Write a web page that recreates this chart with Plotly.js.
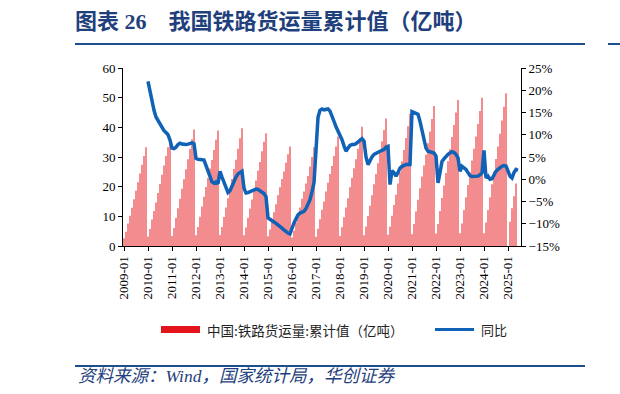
<!DOCTYPE html>
<html>
<head>
<meta charset="utf-8">
<script src="https://cdn.plot.ly/plotly-3.0.1.min.js"></script>
<style>
html,body{margin:0;padding:0;background:#fff;}
#chart{width:620px;height:394px;}
</style>
</head>
<body>
<div id="chart"></div>
<script>
// ---- data ----
const months = [];
for (let y = 2009; y <= 2025; y++) {
  for (let m = 1; m <= 12; m++) {
    if (y === 2025 && m > 7) break;
    months.push(y + '-' + String(m).padStart(2, '0'));
  }
}
const tickLabels = ['2009-01', '2010-01', '2011-01', '2012-01', '2013-01', '2014-01', '2015-01', '2016-01',
  '2017-01', '2018-01', '2019-01', '2020-01', '2021-01', '2022-01', '2023-01', '2024-01', '2025-01'];

// 中国:铁路货运量:累计值（亿吨）
const cum2009 = [2.6, 4.8, 7.6, 10.2, 12.9, 15.8, 18.6, 21.5, 24.4, 27.4, 30.3, 33.3];
const cum2010 = [3.2, 5.7, 8.9, 11.8, 14.7, 17.9, 20.9, 24.0, 27.1, 30.3, 33.3, 36.4];
const cum2011 = [3.4, 6.1, 9.5, 12.7, 15.9, 19.3, 22.5, 25.9, 29.2, 32.7, 36.0, 39.3];
const cum2012 = [3.6, 6.4, 9.9, 13.3, 16.6, 19.9, 22.9, 26.1, 29.0, 32.4, 35.8, 38.9];
const cum2013 = [3.7, 6.4, 9.8, 13.0, 16.1, 19.4, 22.6, 26.0, 29.1, 32.8, 36.3, 39.7];
const cum2014 = [3.6, 6.2, 9.5, 12.6, 15.7, 19.0, 22.1, 25.4, 28.3, 31.9, 35.1, 38.0];
const cum2015 = [3.3, 5.6, 8.6, 11.4, 14.1, 17.1, 19.8, 22.6, 25.1, 28.1, 30.9, 33.5];
const cum2016 = [2.9, 5.1, 7.8, 10.5, 13.0, 15.9, 18.4, 21.1, 23.6, 26.8, 30.0, 33.3];
const cum2017 = [3.1, 5.8, 9.0, 12.2, 15.0, 18.4, 21.3, 24.3, 27.0, 30.3, 33.5, 36.9];
const cum2018 = [3.4, 6.3, 9.7, 13.0, 16.1, 19.8, 23.0, 26.2, 29.2, 32.8, 36.4, 40.2];
const cum2019 = [3.6, 6.6, 10.1, 13.6, 17.1, 20.8, 24.3, 27.9, 31.5, 35.3, 39.1, 43.0];
const cum2020 = [3.8, 6.5, 10.2, 13.8, 17.3, 21.1, 24.9, 28.6, 32.4, 36.4, 40.4, 44.6];
const cum2021 = [4.0, 7.4, 11.6, 15.6, 19.5, 23.4, 27.1, 30.8, 34.6, 38.6, 42.8, 47.2];
const cum2022 = [4.2, 7.4, 11.8, 16.2, 20.4, 24.6, 28.6, 32.6, 36.7, 40.8, 45.0, 49.2];
const cum2023 = [4.3, 7.6, 12.1, 16.4, 20.6, 24.8, 28.8, 32.8, 36.9, 41.1, 45.5, 50.0];
const cum2024 = [4.3, 7.9, 12.1, 16.4, 20.8, 25.1, 29.3, 33.5, 37.8, 42.3, 46.9, 51.5];
const cum2025 = [null, 8.2, 12.7, 16.8, 21.1, null, null];

// 同比 (%)
const yoy2009 = [null, null, null, null, null, null, null, null, null, null, null, null];
const yoy2010 = [22.0, 19.5, 17.5, 15.5, 14.0, 13.2, 12.3, 11.5, 10.9, 10.5, 10.0, 8.8];
const yoy2011 = [7.0, 6.9, 7.2, 7.8, 8.1, 7.9, 7.8, 7.8, 7.9, 8.0, 8.2, 8.0];
const yoy2012 = [4.7, 4.5, 4.5, 4.4, 4.3, 3.2, 1.8, 0.6, -0.6, -0.9, -0.6, -1.0];
const yoy2013 = [1.8, 0.5, -0.8, -2.2, -3.0, -2.6, -1.5, -0.5, 0.5, 1.2, 1.5, 1.8];
const yoy2014 = [-2.0, -3.1, -3.0, -2.8, -2.5, -2.3, -2.2, -2.3, -2.6, -2.8, -3.2, -3.9];
const yoy2015 = [-8.7, -9.0, -9.4, -9.6, -9.9, -10.2, -10.5, -11.0, -11.4, -11.8, -12.1, -12.3];
const yoy2016 = [-10.8, -9.8, -8.9, -8.0, -7.6, -7.3, -7.2, -6.6, -5.8, -4.6, -2.8, -0.8];
const yoy2017 = [6.5, 13.9, 15.5, 15.8, 15.6, 15.7, 15.8, 15.3, 14.3, 13.0, 11.8, 10.8];
const yoy2018 = [10.0, 8.9, 7.5, 6.3, 7.0, 7.6, 7.8, 7.8, 8.0, 8.4, 8.6, 9.1];
const yoy2019 = [8.6, 5.0, 3.3, 4.4, 5.0, 5.6, 5.9, 6.2, 6.3, 6.5, 6.7, 7.2];
const yoy2020 = [7.4, -1.2, 1.9, 1.5, 0.7, 1.5, 2.5, 2.9, 3.2, 3.3, 3.3, 3.3];
const yoy2021 = [15.2, 15.0, 14.8, 14.6, 13.0, 11.0, 8.4, 7.0, 6.3, 6.2, 6.0, 5.9];
const yoy2022 = [5.2, -0.8, 1.5, 4.0, 4.6, 5.2, 5.6, 5.9, 6.2, 6.0, 5.6, 4.8];
const yoy2023 = [1.8, 2.9, 2.6, 2.2, 1.5, 0.8, 0.6, 0.6, 0.7, 0.7, 1.0, 1.4];
const yoy2024 = [6.5, 0.3, 0.7, 0.0, 0.1, 1.0, 1.8, 2.2, 2.6, 2.9, 3.1, 3.0];
const yoy2025 = [null, 0.7, 0.3, 1.5, 2.2, 2.0, null];

const cumulative = [].concat(cum2009, cum2010, cum2011, cum2012, cum2013, cum2014, cum2015, cum2016,
  cum2017, cum2018, cum2019, cum2020, cum2021, cum2022, cum2023, cum2024, cum2025);
const yoy = [].concat(yoy2009, yoy2010, yoy2011, yoy2012, yoy2013, yoy2014, yoy2015, yoy2016,
  yoy2017, yoy2018, yoy2019, yoy2020, yoy2021, yoy2022, yoy2023, yoy2024, yoy2025);

const barName = '中国:铁路货运量:累计值（亿吨）';
const lineName = '同比';

// ---- layout helpers (pixel -> paper) ----
const L = 123, R = 521, T = 68, B = 246;
const px = x => (x - L) / (R - L);
const py = y => (B - y) / (B - T);

const serif = 'Liberation Serif, Times New Roman, serif';
const cjk = 'Noto Sans CJK SC, sans-serif';
const navy = '#1f3f7d';

const traces = [
  {
    type: 'bar', x: months, y: cumulative, name: barName,
    width: 0.5,
    marker: {color: '#e3141c', opacity: 0.98, line: {width: 0}},
    showlegend: false, hoverinfo: 'skip'
  },
  {
    type: 'scatter', mode: 'lines', x: months, y: yoy, name: lineName, yaxis: 'y2',
    connectgaps: true,
    line: {color: '#0f62b6', width: 3.5},
    showlegend: false, hoverinfo: 'skip'
  }
];

const layout = {
  width: 620, height: 394,
  margin: {l: L, r: 620 - R, t: T, b: 394 - B, pad: 0},
  paper_bgcolor: '#fff', plot_bgcolor: '#fff',
  showlegend: false,
  xaxis: {
    type: 'category', categoryorder: 'array', categoryarray: months,
    range: [-0.5, months.length - 0.5],
    tickmode: 'array', tickvals: tickLabels, ticktext: tickLabels, tickangle: -90,
    ticks: 'outside', ticklen: 4, tickcolor: '#000', tickwidth: 1,
    showline: true, linecolor: '#000', linewidth: 1, showgrid: false, zeroline: false,
    tickfont: {family: serif, size: 13, color: '#000'}
  },
  yaxis: {
    range: [0, 60], dtick: 10, tick0: 0,
    ticks: 'outside', ticklen: 4, tickcolor: '#000',
    showline: true, linecolor: '#000', linewidth: 1, showgrid: false, zeroline: false,
    tickfont: {family: serif, size: 13, color: '#000'}
  },
  yaxis2: {
    overlaying: 'y', side: 'right', range: [-15, 25], dtick: 5, tick0: 0,
    ticksuffix: '%',
    ticks: 'outside', ticklen: 4, tickcolor: '#000',
    showline: true, linecolor: '#000', linewidth: 1, showgrid: false, zeroline: false,
    tickfont: {family: serif, size: 13, color: '#000'}
  },
  title: {
    text: '<b>图表 26\u00a0\u00a0\u00a0\u00a0我国铁路货运量累计值（亿吨）</b>',
    xref: 'container', yref: 'container',
    x: 75 / 620, xanchor: 'left', y: 1 - 21 / 394, yanchor: 'middle',
    font: {family: serif + ', ' + cjk, size: 22, color: navy}
  },
  shapes: [
    {type: 'line', xref: 'paper', yref: 'paper', x0: px(75), x1: px(585), y0: py(44), y1: py(44),
     line: {color: '#1f4e8c', width: 2}},
    {type: 'line', xref: 'paper', yref: 'paper', x0: px(608), x1: px(622), y0: py(44), y1: py(44),
     line: {color: '#1f4e8c', width: 2}},
    {type: 'line', xref: 'paper', yref: 'paper', x0: px(75), x1: px(585), y0: py(366), y1: py(366),
     line: {color: '#1f4e8c', width: 2}},
    // legend keys
    {type: 'rect', xref: 'paper', yref: 'paper', x0: px(161), x1: px(200), y0: py(326), y1: py(333),
     fillcolor: '#e3141c', line: {width: 0}},
    {type: 'line', xref: 'paper', yref: 'paper', x0: px(435), x1: px(474), y0: py(329.5), y1: py(329.5),
     line: {color: '#0f62b6', width: 3}}
  ],
  annotations: [
    {xref: 'paper', yref: 'paper', x: px(205), y: py(329.5), xanchor: 'left', yanchor: 'middle',
     text: barName, showarrow: false, font: {family: cjk, size: 13.5, color: '#222'}},
    {xref: 'paper', yref: 'paper', x: px(479), y: py(329.5), xanchor: 'left', yanchor: 'middle',
     text: lineName, showarrow: false, font: {family: cjk, size: 13, color: '#222'}},
    {xref: 'paper', yref: 'paper', x: px(76), y: py(376), xanchor: 'left', yanchor: 'middle',
     text: '资料来源：Wind，国家统计局，华创证券', showarrow: false,
     font: {family: serif + ', ' + cjk, size: 17.5, color: navy, style: 'italic'}}
  ]
};

Plotly.newPlot('chart', traces, layout, {staticPlot: true, displayModeBar: false});
</script>
</body>
</html>
